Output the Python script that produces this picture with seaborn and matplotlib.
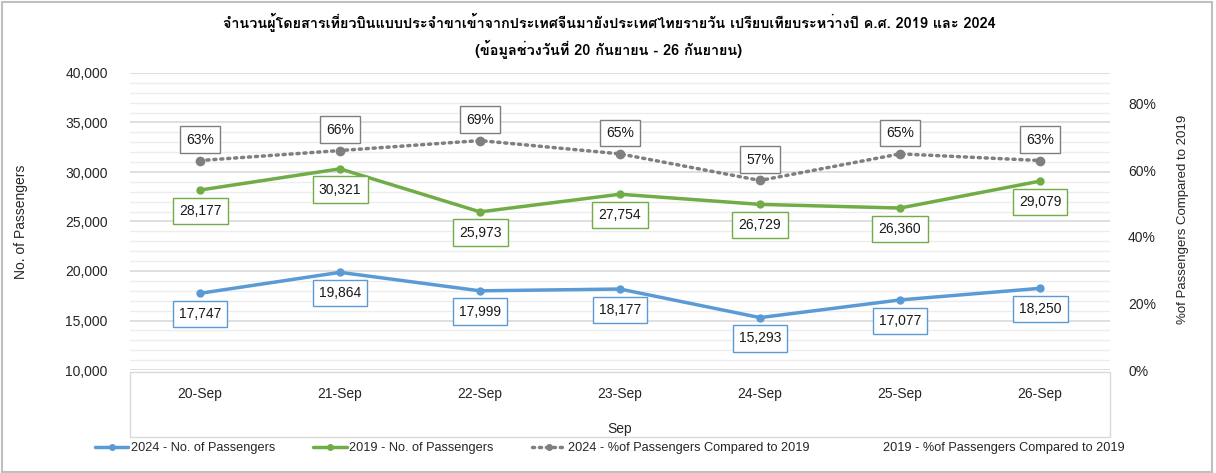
import matplotlib
matplotlib.use("Agg")
import matplotlib.pyplot as plt
from matplotlib import font_manager, ft2font
from matplotlib.lines import Line2D
from matplotlib.patches import Rectangle
from matplotlib.ticker import FuncFormatter, MultipleLocator
import seaborn as sns
import pandas as pd

# ---------------- data ----------------
dates = ["20-Sep", "21-Sep", "22-Sep", "23-Sep", "24-Sep", "25-Sep", "26-Sep"]
pax_2024 = [17747, 19864, 17999, 18177, 15293, 17077, 18250]
pax_2019 = [28177, 30321, 25973, 27754, 26729, 26360, 29079]
pct_2024 = [0.63, 0.66, 0.69, 0.65, 0.57, 0.65, 0.63]

title_lines = [
    "จำนวนผู้โดยสารเที่ยวบินแบบประจำขาเข้าจากประเทศจีนมายังประเทศไทยรายวัน เปรียบเทียบระหว่างปี ค.ศ. 2019 และ 2024",
    "(ข้อมูลช่วงวันที่ 20 กันยายน - 26 กันยายน)",
]
legend_labels = [
    "2024 - No. of Passengers",
    "2019 - No. of Passengers",
    "2024 - %of Passengers Compared to 2019",
    "2019 - %of Passengers Compared to 2019",
]

# ---------------- fonts ----------------
sns.set_theme(style="white")


def find_thai_font():
    seen = set()
    for f in font_manager.fontManager.ttflist:
        if f.name in seen:
            continue
        seen.add(f.name)
        try:
            cmap = ft2font.FT2Font(f.fname).get_charmap()
            if 0x0E08 in cmap and 0x0E33 in cmap:
                return f.name
        except Exception:
            pass
    return None


installed = {f.name for f in font_manager.fontManager.ttflist}
thai = find_thai_font()
latin = "Liberation Sans" if "Liberation Sans" in installed else "DejaVu Sans"
fam = [latin, "DejaVu Sans"] + ([thai] if thai else [])
title_fam = ([thai] if thai else []) + ["DejaVu Sans"]
plt.rcParams["font.family"] = fam

FS = 10
TXT = "#262626"
BLUE = "#5B9BD5"
GREEN = "#70AD47"
GRAY = "#7F7F7F"

df = pd.DataFrame({"date": dates, "p24": pax_2024, "p19": pax_2019, "pct": pct_2024})
df["x"] = range(len(df))

fig = plt.figure(figsize=(12.16, 4.73), dpi=100)
ax = fig.add_axes([130 / 1216, 1 - 370 / 473, 980 / 1216, 297 / 473])
ax2 = ax.twinx()

sns.lineplot(data=df, x="x", y="p24", ax=ax, color=BLUE, lw=2.5, marker="o",
             markersize=6, markeredgewidth=0, zorder=3)
sns.lineplot(data=df, x="x", y="p19", ax=ax, color=GREEN, lw=2.5, marker="o",
             markersize=6, markeredgewidth=0, zorder=3)
sns.lineplot(data=df, x="x", y="pct", ax=ax2, color=GRAY, lw=2.5, marker="o",
             markersize=7, markeredgewidth=0, linestyle=(0, (0.6, 1.4)),
             dash_capstyle="round", zorder=3)

ax.set_xlim(-0.5, len(dates) - 0.5)
ax.set_ylim(10000, 40000)
ax2.set_ylim(0, 0.8932)
ax.yaxis.set_major_locator(MultipleLocator(5000))
ax.yaxis.set_minor_locator(MultipleLocator(1000))
ax2.yaxis.set_major_locator(MultipleLocator(0.2))
ax.yaxis.set_major_formatter(FuncFormatter(lambda v, p: f"{v:,.0f}"))
ax2.yaxis.set_major_formatter(FuncFormatter(lambda v, p: f"{v:.0%}"))

ax.grid(axis="y", which="major", color="#D9D9D9", lw=1.2)
ax.grid(axis="y", which="minor", color="#EDEDED", lw=1.0)
ax.grid(axis="x", visible=False)
ax2.grid(False)
for a in (ax, ax2):
    for s in a.spines.values():
        s.set_visible(False)

ax.set_xticks(df["x"])
ax.set_xticklabels(dates)
ax.tick_params(axis="x", length=0, pad=12, labelsize=FS, labelcolor=TXT)
ax.tick_params(axis="y", which="both", length=0, pad=16, labelsize=FS, labelcolor=TXT)
ax2.tick_params(axis="y", length=0, pad=13, labelsize=FS, labelcolor=TXT)

ax.set_xlabel("Sep", fontsize=FS, color=TXT)
ax.xaxis.set_label_coords(0.5, (370 - 422) / 297)
ax.set_ylabel("No. of Passengers", fontsize=FS, color=TXT)
ax.yaxis.set_label_coords((28 - 130) / 980, 0.5)
ax2.set_ylabel("%of Passengers Compared to 2019", fontsize=9.5, color=TXT, rotation=90)
ax2.yaxis.set_label_coords((1177 - 130) / 980, (370 - 219) / 297)

# box around the category axis
ax.add_patch(Rectangle((0, -0.227), 1, 0.22, transform=ax.transAxes, fill=False,
                       edgecolor="#D9D9D9", lw=1.0, clip_on=False))

# data labels
def boxlab(a, x, y, s, ec, dy):
    a.annotate(s, (x, y), xytext=(0, dy), textcoords="offset points",
               ha="center", va="center", fontsize=FS, color="#1a1a1a", zorder=5,
               bbox=dict(boxstyle="square,pad=0.45", fc="white", ec=ec, lw=1.0))

for x, v in zip(df["x"], pax_2024):
    boxlab(ax, x, v, f"{v:,}", BLUE, -15)
for x, v in zip(df["x"], pax_2019):
    boxlab(ax, x, v, f"{v:,}", GREEN, -15)
for x, v in zip(df["x"], pct_2024):
    boxlab(ax2, x, v, f"{v:.0%}", GRAY, 15)

# title
fig.text(609 / 1216, 1 - 22 / 473, title_lines[0], ha="center", va="center",
         fontsize=10.4, fontweight="bold", color="#000000", family=title_fam)
fig.text(609 / 1216, 1 - 49 / 473, title_lines[1], ha="center", va="center",
         fontsize=10.4, fontweight="bold", color="#000000", family=title_fam)

# legend
handles = [
    Line2D([], [], color=BLUE, lw=2.5, marker="o", markersize=5, markeredgewidth=0),
    Line2D([], [], color=GREEN, lw=2.5, marker="o", markersize=5, markeredgewidth=0),
    Line2D([], [], color=GRAY, lw=2.5, marker="o", markersize=5, markeredgewidth=0,
           linestyle=(0, (0.6, 1.4)), dash_capstyle="round"),
    Line2D([], [], color="none", lw=2.5),
]
fig.legend(handles, legend_labels, loc="center", bbox_to_anchor=(610 / 1216, 1 - 448 / 473),
           ncol=4, frameon=False, fontsize=9.2, handlelength=2.6, handletextpad=0.2,
           columnspacing=3.0, labelcolor=TXT)

# chart border
fig.add_artist(Rectangle((0.002, 0.003), 0.995, 0.993, transform=fig.transFigure,
                         fill=False, edgecolor="#BFBFBF", lw=1.5))

fig.savefig("out.png", dpi=100, facecolor="white")
